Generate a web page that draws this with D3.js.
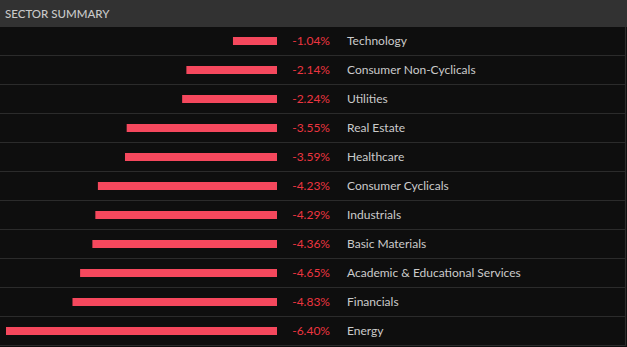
<!DOCTYPE html>
<html>
<head>
<meta charset="utf-8">
<script src="https://cdn.jsdelivr.net/npm/d3@7"></script>
<style>
  html, body { margin: 0; padding: 0; background: #0e0e0e; }
  svg { display: block; }
</style>
</head>
<body>
<svg id="chart" width="627" height="347"></svg>
<script>
// Sector performance, daily change in percent
const sectors = [
  "Technology", "Consumer Non-Cyclicals", "Utilities", "Real Estate", "Healthcare",
  "Consumer Cyclicals", "Industrials", "Basic Materials",
  "Academic & Educational Services", "Financials", "Energy"
];
const changes = [-1.04, -2.14, -2.24, -3.55, -3.59, -4.23, -4.29, -4.36, -4.65, -4.83, -6.40];
const title = "SECTOR SUMMARY";

const W = 627, H = 347;
const headerH = 27, rowH = 29;
const font = "Lato, 'Open Sans', sans-serif";

const svg = d3.select("#chart");

// body + header panels
svg.append("rect").attr("width", W).attr("height", H).attr("fill", "#0e0e0e");
svg.append("rect").attr("width", W).attr("height", headerH).attr("fill", "#323232");
svg.append("text")
  .attr("x", 5).attr("y", 17.5)
  .attr("fill", "#c9c9c9")
  .attr("font-family", font).attr("font-size", 11.5)
  .attr("font-weight", 500)
  .text(title);

const data = sectors.map((s, i) => ({ sector: s, value: changes[i] }));

const y = d3.scaleBand()
  .domain(sectors)
  .range([headerH, headerH + rowH * sectors.length])
  .paddingInner(0);

// negative values grow leftwards from the zero line
const x = d3.scaleLinear().domain([-6.40, 0]).range([6, 277]);

const rows = svg.append("g").selectAll("g").data(data).join("g");

// row separators
rows.append("line")
  .attr("x1", 0).attr("x2", 626)
  .attr("y1", d => y(d.sector) + rowH - 0.5)
  .attr("y2", d => y(d.sector) + rowH - 0.5)
  .attr("stroke", "#2b2b2b").attr("stroke-width", 1.2);

rows.append("rect")
  .attr("x", d => x(d.value))
  .attr("width", d => x(0) - x(d.value))
  .attr("y", d => y(d.sector) + 10)
  .attr("height", 8)
  .attr("fill", "#f5485d");

const fmt = v => d3.format(".2f")(v).replace("\u2212", "-") + "%";

rows.append("text")
  .attr("x", 330)
  .attr("y", d => y(d.sector) + 18)
  .attr("text-anchor", "end")
  .attr("fill", "#ec3540")
  .attr("font-family", font).attr("font-size", 12)
  .text(d => fmt(d.value));

rows.append("text")
  .attr("x", 347)
  .attr("y", d => y(d.sector) + 18)
  .attr("fill", "#cbcbcb")
  .attr("font-family", font).attr("font-size", 12)
  .text(d => d.sector);

// right edge border
svg.append("line")
  .attr("x1", 625.5).attr("x2", 625.5)
  .attr("y1", headerH).attr("y2", headerH + rowH * sectors.length)
  .attr("stroke", "#2b2b2b").attr("stroke-width", 1.2);
</script>
</body>
</html>
